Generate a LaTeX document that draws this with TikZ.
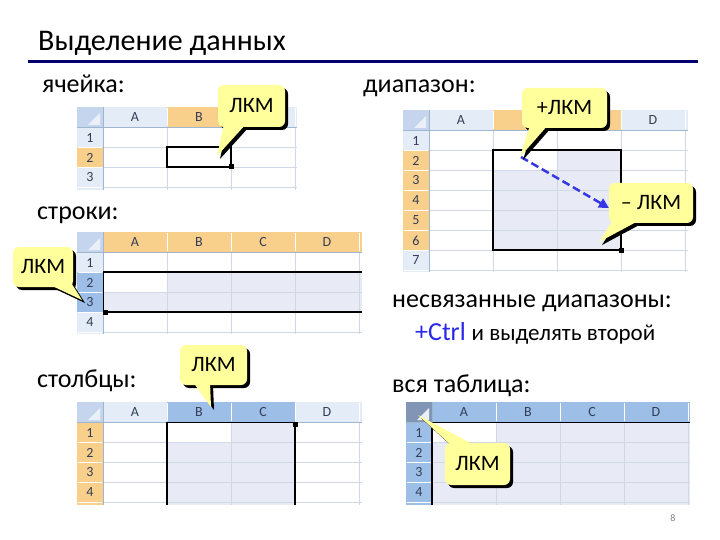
\documentclass[tikz,border=0pt]{standalone}
\usepackage{fontspec}
\setmainfont{Carlito}
\usetikzlibrary{arrows.meta}
\definecolor{navyline}{RGB}{0,0,110}
\definecolor{hdrN}{RGB}{228,236,247}
\definecolor{hdrO}{RGB}{249,207,140}
\definecolor{hdrB}{RGB}{157,190,230}
\definecolor{cornerN}{RGB}{196,213,237}
\definecolor{cornerD}{RGB}{128,150,180}
\definecolor{tri}{RGB}{235,240,248}
\definecolor{gridc}{RGB}{208,215,229}
\definecolor{hline}{RGB}{158,182,206}
\definecolor{selfill}{RGB}{232,235,246}
\definecolor{htext}{RGB}{50,62,85}
\definecolor{lkmfill}{RGB}{255,255,155}
\definecolor{arrowblue}{RGB}{55,55,225}
\definecolor{ctrlblue}{RGB}{40,40,235}
\tikzset{
  gridline/.style={draw=gridc, line width=0.8pt},
  hsep/.style={draw=white, line width=0.8pt},
  hdrline/.style={draw=hline, line width=0.8pt},
  hlab/.style={font=\fontsize{14}{16}\selectfont, text=htext, inner sep=0pt},
  body/.style={font=\fontsize{26}{30}\selectfont, anchor=base west, inner sep=0pt},
  lkmtext/.style={font=\fontsize{22}{26}\selectfont, inner sep=0pt},
  selbox/.style={draw=black, line width=2.4pt},
}
\newcommand\xlsbase[4]{%
  \fill[white] (#1,#2) rectangle (#3,#4);
  \fill[hdrN] (#1,#2) rectangle (#3,{#2+20});
  \fill[hdrN] (#1,#2) rectangle ({#1+26},#4);
  \fill[cornerN] (#1,#2) rectangle ({#1+26},{#2+20});
}
\newcommand\xlsgrid[8]{%
  \foreach \i in {1,...,#5} \draw[gridline] ({#1+26+64*\i},{#2+20}) -- ({#1+26+64*\i},#4);
  \foreach \j in {1,...,#6} \draw[gridline] ({#1+26},{#2+20+20*\j}) -- (#3,{#2+20+20*\j});
  \foreach \i in {1,...,#5} \draw[hsep] ({#1+26+64*\i},{#2+1}) -- ({#1+26+64*\i},{#2+19});
  \foreach \j in {1,...,#6} \draw[hsep] ({#1+1},{#2+20+20*\j}) -- ({#1+25},{#2+20+20*\j});
  \draw[hdrline] (#1,{#2+20}) -- (#3,{#2+20});
  \draw[hdrline] ({#1+26},#2) -- ({#1+26},#4);
  \fill[tri] ({#1+23},{#2+6}) -- ({#1+23},{#2+18}) -- ({#1+11},{#2+18}) -- cycle;
  \foreach \L [count=\i] in {#7} \node[hlab] (#8c\i) at ({#1+26+64*\i-32},{#2+10.5}) {\L};
  \foreach \j in {1,...,#6} \node[hlab] (#8r\j) at ({#1+13},{#2+20+20*\j-9.5}) {\j};
}
\newcommand\lkm[9]{%
  \begin{scope}[shift={(3,3)}]
    \fill[black, rounded corners=6pt] (#2,#3) rectangle (#4,#5);
    \fill[black] #6 -- #8 -- #7 -- cycle;
  \end{scope}
  \fill[lkmfill, rounded corners=6pt] (#2,#3) rectangle (#4,#5);
  \fill[lkmfill] #6 -- #8 -- #7 -- cycle;
  \node[lkmtext] (#1) at ({(#2+#4)/2},{(#3+#5)/2}) {#9};
}
\begin{document}
\begin{tikzpicture}[x=1pt,y=-1pt]
\useasboundingbox[fill=white] (0,0) rectangle (720,540);

% title
\node[anchor=base west, inner sep=0pt, font=\fontsize{30}{34}\selectfont] (title) at (38,51) {Выделение данных};
\draw[navyline, line width=3pt] (28,62) -- (698,62);

% labels
\node[body] (lcell) at (42,93) {ячейка:};
\node[body] (lrange) at (363,93) {диапазон:};
\node[body] (lrows) at (37,220) {строки:};
\node[body] (lcols) at (37,387) {столбцы:};
\node[body] (lnon) at (392,307) {несвязанные диапазоны:};
\node[anchor=base west, inner sep=0pt] (lctrl) at (415,340) {\fontsize{26}{30}\selectfont\textcolor{ctrlblue}{+Ctrl}\ {\fontsize{23}{27}\selectfont и выделять второй}};
\node[body] (lall) at (392,392) {вся таблица:};
\node[font=\fontsize{10}{12}\selectfont, text=gray] (pnum) at (673,518) {8};

% ---- table 1: cell
\xlsbase{77}{107}{297}{190}
\fill[hdrO] (167,107) rectangle (231,127);
\fill[hdrO] (77,147) rectangle (103,167);
\xlsgrid{77}{107}{297}{190}{3}{3}{A,B,{}}{ta}
\draw[selbox] (167,147) rectangle (231,167);
\fill[black] (228.5,164.5) rectangle (233.5,169.5);

% ---- table 2: range
\xlsbase{403}{110}{688}{272}
\fill[hdrO] (493,110) rectangle (621,130);
\fill[hdrO] (403,150) rectangle (429,250);
\fill[selfill] (493,150) rectangle (621,250);
\fill[white] (493,150) rectangle (557,170);
\xlsgrid{403}{110}{688}{272}{4}{7}{A,{},{},D}{tb}
\draw[selbox] (493,150) rectangle (621,250);
\fill[black] (618.5,247.5) rectangle (623.5,252.5);

% ---- table 3: rows
\xlsbase{77}{232}{362}{334}
\fill[hdrO] (103,232) rectangle (362,252);
\fill[hdrB] (77,272) rectangle (103,312);
\fill[selfill] (103,272) rectangle (362,312);
\fill[white] (103,272) rectangle (167,292);
\xlsgrid{77}{232}{362}{334}{4}{4}{A,B,C,D}{tc}
\draw[black, line width=0.8pt] (103,272) -- (103,312);
\draw[black, line width=2.4pt] (103,272) -- (362,272);
\draw[black, line width=2.4pt] (103,312) -- (362,312);
\fill[black] (103,309.5) rectangle (108,314.5);

% ---- table 4: columns
\xlsbase{77}{402}{362}{505}
\fill[hdrB] (167,402) rectangle (295,422);
\fill[hdrO] (77,422) rectangle (103,505);
\fill[selfill] (167,422) rectangle (295,505);
\fill[white] (167,422) rectangle (231,442);
\xlsgrid{77}{402}{362}{505}{4}{4}{A,B,C,D}{td}
\draw[black, line width=0.8pt] (167,422) -- (295,422);
\draw[black, line width=2.4pt] (167,422) -- (167,505);
\draw[black, line width=2.4pt] (295,422) -- (295,505);
\fill[black] (292.5,422) rectangle (297.5,427);

% ---- table 5: whole sheet
\xlsbase{406}{402}{690}{505}
\fill[hdrB] (432,402) rectangle (690,422);
\fill[hdrB] (406,422) rectangle (432,505);
\fill[cornerD] (406,402) rectangle (432,422);
\fill[selfill] (432,422) rectangle (690,505);
\fill[white] (432,422) rectangle (496,442);
\xlsgrid{406}{402}{690}{505}{4}{4}{A,B,C,D}{te}
\draw[black, line width=1.2pt] (432,505) -- (432,422.6) -- (690,422.6);

% dashed drag arrow
\coordinate (dstart) at (521,157);
\coordinate (dend) at (609,208);
\draw[arrowblue, line width=2.5pt, dash pattern=on 8pt off 4pt, -{Triangle[length=10pt,width=10pt]}] (dstart) -- (dend);

% callouts
\lkm{k1}{218}{85}{285}{127}{(224,124)}{(246,124)}{(217,156)}{ЛКМ}
\lkm{k2}{522}{88}{607}{128}{(530,125)}{(548,125)}{(520,157)}{+ЛКМ}
\lkm{k3}{609}{183}{693}{223}{(613,220)}{(640,220)}{(599,242)}{– ЛКМ}
\lkm{k4}{13}{247}{73}{287}{(48,284)}{(70,281)}{(82,300)}{ЛКМ}
\lkm{k5}{180}{345}{247}{385}{(193,382)}{(210,382)}{(211,407)}{ЛКМ}
\lkm{k6}{445}{443}{510}{485}{(452,446)}{(476,446)}{(418,415)}{ЛКМ}
\end{tikzpicture}
\end{document}
